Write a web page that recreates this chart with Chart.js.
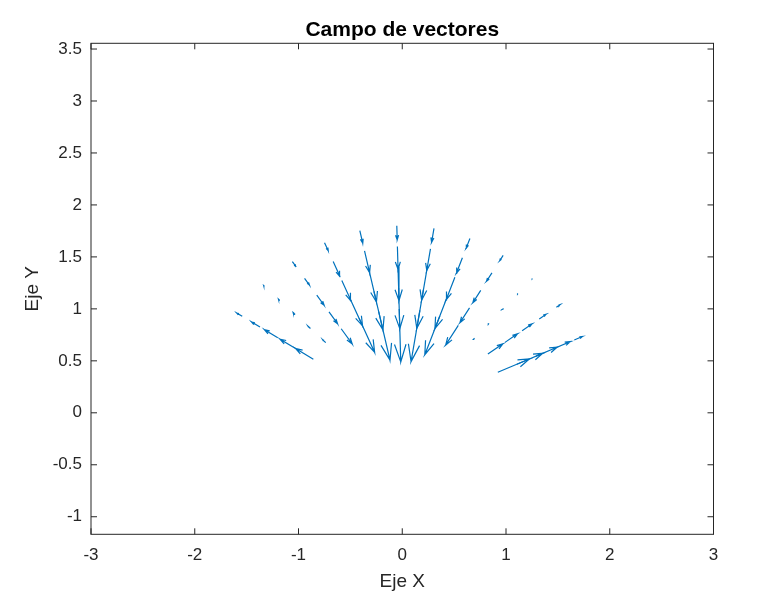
<!DOCTYPE html>
<html>
<head>
<meta charset="utf-8">
<script src="https://cdn.jsdelivr.net/npm/chart.js@4.4.1/dist/chart.umd.min.js"></script>
<style>
  html, body { margin: 0; padding: 0; background: #fff; }
  #wrap { width: 775px; height: 600px; }
</style>
</head>
<body>
<div id="wrap"><canvas id="quiverChart" width="775" height="600"></canvas></div>
<script>
// Polar grid of the arrow tails (angle in radians, radius in data units)
const rayAngles = [0.4, 0.6, 0.8, 1.0, 1.2, 1.4, 1.6, 1.8, 2.0, 2.2, 2.4, 2.6];
const ringRadii = [1.0, 1.2, 1.4, 1.6, 1.8];

// Radial component of each arrow (+ outward, - inward), one row per ray,
// one value per ring radius
const radialComp = [
    [0.33, 0.27, 0.22, 0.16, 0.085],        // 0.4
    [0.175, 0.145, 0.115, 0.077, 0.042],    // 0.6
    [-0.015, -0.012, -0.009, -0.006, -0.004], // 0.8
    [-0.225, -0.17, -0.14, -0.096, -0.06],  // 1.0
    [-0.40, -0.33, -0.235, -0.16, -0.10],   // 1.2
    [-0.50, -0.375, -0.30, -0.21, -0.135],  // 1.4
    [-0.51, -0.39, -0.32, -0.22, -0.135],   // 1.6
    [-0.48, -0.38, -0.305, -0.215, -0.125], // 1.8
    [-0.36, -0.28, -0.21, -0.155, -0.085],  // 2.0
    [-0.18, -0.14, -0.12, -0.08, -0.055],   // 2.2
    [0.04, 0.032, 0.026, 0.018, 0.011],     // 2.4
    [0.20, 0.175, 0.15, 0.095, 0.06]        // 2.6
];

const xTicks = [-3, -2, -1, 0, 1, 2, 3];
const yTicks = [-1, -0.5, 0, 0.5, 1, 1.5, 2, 2.5, 3, 3.5];
const titleText = 'Campo de vectores';

const arrowColor = '#0072BD';
const axisColor = '#262626';
const fontFamily = '"Liberation Sans", Arial, Helvetica, sans-serif';

// build one polyline per arrow: tail -> tip -> head side -> tip -> other side
const alpha = 0.33, beta = 0.33;
const datasets = [];
rayAngles.forEach((th, i) => {
    ringRadii.forEach((r, j) => {
        const x = r * Math.cos(th), y = r * Math.sin(th);
        const u = radialComp[i][j] * Math.cos(th);
        const v = radialComp[i][j] * Math.sin(th);
        const tx = x + u, ty = y + v;
        datasets.push({
            data: [
                { x: x, y: y },
                { x: tx, y: ty },
                { x: tx - alpha * (u + beta * v), y: ty - alpha * (v - beta * u) },
                { x: tx, y: ty },
                { x: tx - alpha * (u - beta * v), y: ty - alpha * (v + beta * u) }
            ],
            showLine: true,
            borderColor: arrowColor,
            borderWidth: 1.2,
            pointRadius: 0,
            pointHoverRadius: 0,
            fill: false,
            tension: 0
        });
    });
});

// MATLAB style box with inward ticks on all four sides, title centred on the axes
const boxPlugin = {
    id: 'boxPlugin',
    afterDraw(chart) {
        const { ctx, chartArea: a, scales } = chart;
        ctx.save();
        ctx.strokeStyle = axisColor;
        ctx.lineWidth = 1;
        ctx.strokeRect(a.left, a.top, a.right - a.left, a.bottom - a.top);
        const len = 6;
        ctx.beginPath();
        xTicks.forEach(t => {
            const px = scales.x.getPixelForValue(t);
            ctx.moveTo(px, a.bottom); ctx.lineTo(px, a.bottom - len);
            ctx.moveTo(px, a.top); ctx.lineTo(px, a.top + len);
        });
        yTicks.forEach(t => {
            const py = scales.y.getPixelForValue(t);
            ctx.moveTo(a.left, py); ctx.lineTo(a.left + len, py);
            ctx.moveTo(a.right, py); ctx.lineTo(a.right - len, py);
        });
        ctx.stroke();

        ctx.fillStyle = '#000';
        ctx.font = 'bold 21px ' + fontFamily;
        ctx.textAlign = 'center';
        ctx.textBaseline = 'middle';
        ctx.fillText(titleText, (a.left + a.right) / 2, 30);
        ctx.restore();
    }
};

const chart = new Chart(document.getElementById('quiverChart').getContext('2d'), {
    type: 'scatter',
    data: { datasets: datasets },
    options: {
        responsive: false,
        animation: false,
        events: [],
        layout: { padding: { left: 0, right: 61.5, top: 43.3, bottom: 0 } },
        plugins: {
            legend: { display: false },
            tooltip: { enabled: false },
            title: { display: false }
        },
        scales: {
            x: {
                type: 'linear',
                min: -3,
                max: 3,
                afterBuildTicks: s => { s.ticks = xTicks.map(v => ({ value: v })); },
                afterFit: s => { s.height = 65.7; },
                grid: { display: false, drawTicks: false },
                border: { display: false },
                ticks: {
                    color: axisColor,
                    padding: 11,
                    font: { family: fontFamily, size: 17 },
                    callback: v => String(v)
                },
                title: {
                    display: true,
                    text: 'Eje X',
                    color: axisColor,
                    font: { family: fontFamily, size: 19 },
                    padding: { top: 0, bottom: 6.5 }
                }
            },
            y: {
                type: 'linear',
                min: -1.169,
                max: 3.555,
                afterBuildTicks: s => { s.ticks = yTicks.map(v => ({ value: v })); },
                afterFit: s => { s.width = 91; },
                grid: { display: false, drawTicks: false },
                border: { display: false },
                ticks: {
                    color: axisColor,
                    padding: 9,
                    font: { family: fontFamily, size: 17 },
                    callback: v => String(v)
                },
                title: {
                    display: true,
                    text: 'Eje Y',
                    color: axisColor,
                    font: { family: fontFamily, size: 19 },
                    padding: { top: 21.6, bottom: 0 }
                }
            }
        }
    },
    plugins: [boxPlugin]
});
</script>
</body>
</html>
